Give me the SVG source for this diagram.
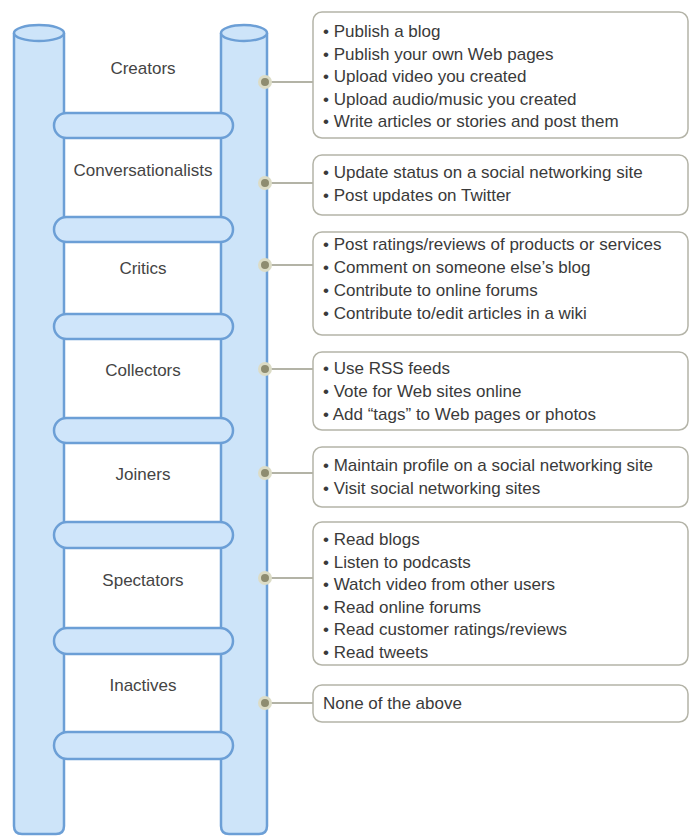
<svg xmlns="http://www.w3.org/2000/svg" width="689" height="836" viewBox="0 0 689 836">
<style>
.rail{fill:#cde4f9;stroke:#6c9fd6;stroke-width:2.5}
.rung{fill:#cfe5fa;stroke:#6c9fd6;stroke-width:2.5}
.lbl{font-family:"Liberation Sans",Arial,sans-serif;font-size:17px;fill:#444;text-anchor:middle}
.box{fill:#fff;stroke:#b4b4a8;stroke-width:1.5}
.t{font-family:"Liberation Sans",Arial,sans-serif;font-size:17px;fill:#3a3a3a}
.dot{fill:#8e8c70;stroke:#dcdcc6;stroke-width:3}
.con{stroke:#9a9a88;stroke-width:1.5;fill:none}
</style>
<rect width="689" height="836" fill="#fff"/>
<g id="ladder">
  <path class="rail" d="M14,33 V826 Q14,834 22,834 H56 Q64,834 64,826 V33"/>
  <ellipse class="rail" cx="39" cy="33" rx="25" ry="8"/>
  <path class="rail" d="M221,33 V826 Q221,834 229,834 H259 Q267,834 267,826 V33"/>
  <ellipse class="rail" cx="244" cy="33" rx="23" ry="8"/>
  <rect class="rung" x="54" y="113" width="179" height="25" rx="12.5"/>
  <rect class="rung" x="54" y="217" width="179" height="25" rx="12.5"/>
  <rect class="rung" x="54" y="314" width="179" height="25" rx="12.5"/>
  <rect class="rung" x="54" y="418" width="179" height="25" rx="12.5"/>
  <rect class="rung" x="54" y="522" width="179" height="26" rx="13"/>
  <rect class="rung" x="54" y="628" width="179" height="26" rx="13"/>
  <rect class="rung" x="54" y="732" width="179" height="27" rx="13.5"/>
</g>
<g id="connectors">
  <line class="con" x1="271" y1="82" x2="313" y2="82"/>
  <line class="con" x1="271" y1="183" x2="313" y2="183"/>
  <line class="con" x1="271" y1="265" x2="313" y2="265"/>
  <line class="con" x1="271" y1="369" x2="313" y2="369"/>
  <line class="con" x1="271" y1="473" x2="313" y2="473"/>
  <line class="con" x1="271" y1="578" x2="313" y2="578"/>
  <line class="con" x1="271" y1="703" x2="313" y2="703"/>
</g>
<g id="creators">
  <text class="lbl" x="143" y="74">Creators</text>
  <circle class="dot" cx="265" cy="82" r="5.5"/>
  <rect class="box" x="313" y="12" width="375" height="126" rx="9"/>
  <text class="t" x="323" y="37">• Publish a blog</text>
  <text class="t" x="323" y="59.5">• Publish your own Web pages</text>
  <text class="t" x="323" y="82">• Upload video you created</text>
  <text class="t" x="323" y="104.5">• Upload audio/music you created</text>
  <text class="t" x="323" y="127">• Write articles or stories and post them</text>
</g>
<g id="conversationalists">
  <text class="lbl" x="143" y="176">Conversationalists</text>
  <circle class="dot" cx="265" cy="183" r="5.5"/>
  <rect class="box" x="313" y="155" width="375" height="60" rx="9"/>
  <text class="t" x="323" y="178">• Update status on a social networking site</text>
  <text class="t" x="323" y="201">• Post updates on Twitter</text>
</g>
<g id="critics">
  <text class="lbl" x="143" y="274">Critics</text>
  <circle class="dot" cx="265" cy="265" r="5.5"/>
  <rect class="box" x="313" y="232" width="375" height="103" rx="9"/>
  <text class="t" x="323" y="250">• Post ratings/reviews of products or services</text>
  <text class="t" x="323" y="273">• Comment on someone else’s blog</text>
  <text class="t" x="323" y="296">• Contribute to online forums</text>
  <text class="t" x="323" y="319">• Contribute to/edit articles in a wiki</text>
</g>
<g id="collectors">
  <text class="lbl" x="143" y="376">Collectors</text>
  <circle class="dot" cx="265" cy="369" r="5.5"/>
  <rect class="box" x="313" y="352" width="375" height="78" rx="9"/>
  <text class="t" x="323" y="374">• Use RSS feeds</text>
  <text class="t" x="323" y="397">• Vote for Web sites online</text>
  <text class="t" x="323" y="420">• Add “tags” to Web pages or photos</text>
</g>
<g id="joiners">
  <text class="lbl" x="143" y="480">Joiners</text>
  <circle class="dot" cx="265" cy="473" r="5.5"/>
  <rect class="box" x="313" y="447" width="375" height="60" rx="9"/>
  <text class="t" x="323" y="471">• Maintain profile on a social networking site</text>
  <text class="t" x="323" y="494">• Visit social networking sites</text>
</g>
<g id="spectators">
  <text class="lbl" x="143" y="586">Spectators</text>
  <circle class="dot" cx="265" cy="578" r="5.5"/>
  <rect class="box" x="313" y="522" width="375" height="143" rx="9"/>
  <text class="t" x="323" y="545">• Read blogs</text>
  <text class="t" x="323" y="567.5">• Listen to podcasts</text>
  <text class="t" x="323" y="590">• Watch video from other users</text>
  <text class="t" x="323" y="612.5">• Read online forums</text>
  <text class="t" x="323" y="635">• Read customer ratings/reviews</text>
  <text class="t" x="323" y="657.5">• Read tweets</text>
</g>
<g id="inactives">
  <text class="lbl" x="143" y="691">Inactives</text>
  <circle class="dot" cx="265" cy="703" r="5.5"/>
  <rect class="box" x="313" y="685" width="375" height="37" rx="9"/>
  <text class="t" x="323" y="709">None of the above</text>
</g>
</svg>
